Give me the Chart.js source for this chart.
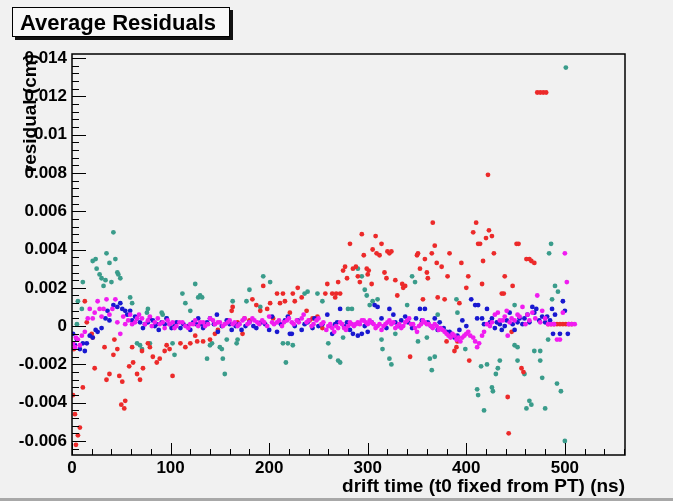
<!DOCTYPE html>
<html>
<head>
<meta charset="utf-8">
<title>Average Residuals</title>
<script src="https://cdn.jsdelivr.net/npm/chart.js@4"></script>
<style>
  html, body { margin: 0; padding: 0; background: #f1f1f1; }
  #wrap { position: relative; width: 673px; height: 501px; overflow: hidden; }
  #edge { position: absolute; left: 0; right: 0; bottom: 0; height: 3px; background: #a8a8a8; }
</style>
</head>
<body>
<div id="wrap">
  <canvas id="resChart" width="673" height="501"></canvas>
  <div id="edge"></div>
</div>
<script>
// --- Data (drift time in ns, residual in cm) ---
const xTicks = [0, 100, 200, 300, 400, 500];
const yTicks = [-0.006, -0.004, -0.002, 0, 0.002, 0.004, 0.006, 0.008, 0.01, 0.012, 0.014];

const redPts = [[1,-0.0036],[2,-0.0012],[3,-0.0046],[4,-0.0062],[6,-0.0057],[8,-0.0053],[11,-0.0032],[13,0.0013],[15,0.0002],[20,-0.0004],[21,-0.0006],[23,-0.0022],[33,-0.0011],[35,-0.0028],[38,-0.0025],[42,-0.0015],[43,-0.0007],[46,-0.0012],[48,-0.0026],[50,-0.0041],[51,-0.0029],[53,-0.0043],[54,-0.0039],[58,-0.0021],[61,-0.0011],[62,-0.0019],[66,-0.0025],[69,-0.0028],[71,-0.0013],[72,-0.0022],[77,-0.0009],[79,-0.0011],[82,-0.0016],[86,-0.0019],[89,-0.0017],[94,-0.0013],[96,-0.001],[99,-0.0012],[102,-0.0026],[110,-0.0009],[115,-0.0011],[120,-0.0009],[125,-0.0005],[127,-0.0008],[133,-0.0008],[140,-0.0007],[145,-0.0004],[148,-0.0002],[158,0.0003],[162,0.0008],[163,0.001],[168,0.0002],[173,-0.0004],[175,0.0004],[180,0.0003],[183,0.0014],[187,0.0011],[191,0.0008],[194,0.0021],[198,0.0009],[201,0.0012],[204,0.0004],[208,0.0017],[211,0.0012],[214,0.0017],[216,0.0013],[221,0.0007],[224,0.0017],[226,0.0013],[229,0.002],[233,0.0015],[238,0.0008],[241,0.0003],[244,0.0004],[249,0.0005],[254,-0.0001],[257,0.0017],[259,0.0022],[264,0.0017],[267,0.0015],[268,0.0017],[270,0.0023],[272,0.0017],[275,0.0029],[277,0.0031],[279,0.0025],[282,0.0043],[285,0.003],[288,0.0031],[290,0.0026],[292,0.0023],[294,0.0048],[296,0.0037],[299,0.003],[300,0.0027],[301,0.0029],[304,0.0022],[305,0.004],[308,0.0047],[309,0.0038],[312,0.0037],[314,0.0043],[317,0.0028],[319,0.0025],[320,0.0039],[322,0.0038],[324,0.0039],[328,0.0024],[330,0.0016],[335,0.0022],[336,0.002],[338,0.0021],[343,-0.0016],[350,0.0037],[351,0.0038],[353,0.003],[356,0.0014],[358,0.0035],[360,0.0028],[361,0.0025],[365,0.0038],[366,0.0054],[368,0.0042],[370,0.0033],[371,0.0015],[375,0.0031],[378,0.0014],[380,-0.0008],[381,0.0026],[383,0.0038],[388,-0.0013],[390,-0.0011],[391,-0.0008],[393,0.0012],[395,0.0033],[400,0.002],[402,0.0026],[403,-0.0018],[407,0.0049],[410,0.0054],[412,0.0043],[414,0.0043],[416,0.0022],[417,0.0034],[420,0.0046],[422,0.0079],[423,0.005],[426,0.0047],[428,0.0038],[436,0.0017],[438,0.0017],[439,0.0026],[442,-0.0037],[443,-0.0056],[446,-0.0003],[447,0.0021],[451,0.0043],[453,0.0043],[456,-0.0022],[458,-0.0024],[461,0.0035],[464,0.0035],[466,0.0034],[469,0.0033],[472,0.0122],[475,0.0122],[478,0.0122],[481,0.0122],[483,0.0001],[486,0.0001],[489,0.0001],[492,0.0001],[495,0.0001],[498,0.0001],[501,0.0001],[504,0.0001],[507,0.0001]];

const tealPts = [[5,0.0001],[6,0.0013],[10,0.0009],[11,0.0023],[21,0.0034],[24,0.0035],[25,0.003],[28,0.0027],[30,0.0025],[32,0.0021],[34,0.0024],[35,0.0038],[38,0.0033],[40,0.0023],[42,0.0049],[44,0.0035],[46,0.0028],[47,0.0027],[49,0.0025],[59,0.0015],[61,0.0012],[66,-0.0009],[69,-0.001],[71,-0.0012],[76,0.0007],[77,0.0009],[79,-0.0009],[91,0.0007],[92,0.0006],[96,0.0004],[102,-0.0009],[104,-0.0015],[112,0.0017],[115,0.0012],[120,0.0008],[125,0.0022],[128,0.0015],[130,0.0016],[132,0.0015],[137,-0.0017],[140,-0.001],[142,-0.0009],[150,-0.0011],[152,-0.0012],[153,-0.0017],[155,-0.0025],[157,-0.0007],[163,0.0013],[167,-0.0009],[168,-0.0007],[177,0.0013],[180,0.0019],[191,0.001],[194,0.0026],[201,0.0023],[214,-0.0009],[217,-0.0019],[219,-0.0009],[224,-0.001],[236,0.0017],[239,0.0018],[249,0.0017],[254,0.0013],[260,-0.0009],[262,-0.0016],[270,-0.0018],[272,-0.0019],[275,-0.0006],[280,0.0009],[284,0.0009],[290,0.003],[294,0.0026],[297,0.0019],[299,0.0016],[302,0.0011],[305,0.0013],[310,0.0014],[314,-0.0007],[315,-0.0012],[322,-0.0017],[324,-0.002],[328,-0.0004],[340,0.0011],[345,0.0026],[348,0.0023],[351,-0.0008],[360,-0.0006],[363,-0.0017],[365,-0.0023],[368,-0.0016],[371,0.0006],[390,0.0014],[391,0.0007],[399,-0.0012],[411,-0.0033],[412,-0.0036],[415,-0.0021],[418,-0.0044],[421,-0.002],[426,-0.0032],[427,-0.0034],[430,-0.0025],[432,-0.0022],[434,-0.0018],[449,0.0011],[449,-0.001],[452,-0.0011],[452,-0.0018],[459,-0.0025],[461,-0.0043],[464,-0.0039],[466,-0.0041],[469,-0.0013],[475,-0.0013],[475,-0.0018],[477,-0.0027],[480,-0.0043],[483,-0.0007],[484,0.0038],[486,0.0043],[487,0.0014],[490,0.0021],[492,-0.003],[493,0.0018],[496,-0.0034],[500,-0.006],[501,0.0135]];

const bluePts = [[1,-0.0004],[3,-0.001],[5,-0.0007],[8,-0.0012],[11,-0.0009],[13,-0.0013],[15,-0.0009],[18,-0.0005],[21,-0.0006],[24,-0.0002],[26,-0.0003],[30,-0.0001],[34,0.0004],[36,0.0008],[38,0.0003],[42,0.0011],[46,0.001],[49,0.0012],[51,0.0009],[54,0.0008],[56,0.0006],[59,0.0008],[61,0.0003],[64,0.0005],[66,0.0004],[69,0.0002],[72,-0.0001],[74,0.0001],[77,0.0002],[79,0.0004],[82,0.0003],[84,0],[86,0.0001],[88,-0.0002],[91,0.0002],[94,0.0001],[96,0.0004],[99,0.0001],[101,-0.0001],[104,0],[106,0.0002],[110,-0.0001],[113,0.0001],[117,0],[120,-0.0002],[123,0.0002],[126,0.0001],[128,0.0004],[131,0.0001],[133,-0.0001],[137,0.0002],[140,0.0004],[144,0.0001],[147,0.0006],[148,-0.0003],[152,0],[157,0.0003],[160,0.0001],[162,-0.0002],[166,0],[169,0.0001],[172,-0.0002],[176,0],[180,0.0002],[184,0],[187,-0.0001],[192,0.0002],[196,0.0001],[200,-0.0002],[203,0.0005],[208,-0.0003],[212,0.0001],[216,0.0003],[219,0.0005],[221,-0.0004],[223,-0.0004],[226,0],[229,0.0003],[233,-0.0002],[236,0.0001],[239,0.0002],[244,-0.0001],[246,0.0004],[250,0],[254,0.0001],[259,0.0006],[262,0],[264,-0.0004],[267,0.0001],[269,0.0002],[272,0.0009],[276,0],[279,0.0002],[282,-0.0002],[285,-0.0004],[290,-0.0005],[294,-0.0004],[297,0],[300,-0.0003],[304,0.0002],[307,0.0011],[310,0.001],[314,0.0004],[319,-0.0001],[322,0.0009],[326,0.0006],[328,0.0002],[331,0],[334,0.0003],[338,0.0005],[341,0.0002],[345,-0.0001],[349,0.0004],[353,0.0009],[355,0.0003],[358,0.0009],[361,0.0002],[364,0],[368,0.0004],[371,-0.0002],[373,0.0002],[377,-0.0001],[380,-0.0003],[383,-0.0003],[385,-0.0004],[388,-0.0006],[391,-0.0005],[393,-0.0002],[396,0.0003],[400,0],[405,0.0014],[409,0.0011],[411,0.0004],[412,0.0011],[416,0.0004],[418,0.0001],[421,0.0009],[424,0.0002],[426,0.0004],[429,-0.0001],[431,0.0002],[434,0.0001],[436,-0.0002],[439,0],[441,0.0003],[444,0.0007],[447,0.0001],[449,-0.0002],[452,0.0002],[454,0.0004],[457,0.0001],[459,0.0004],[462,0.0006],[464,0.0002],[467,0.001],[469,0.0007],[471,0.0009],[474,0.0003],[477,0.0005],[480,0.0002],[482,0.0005],[485,0.0003],[487,0.0009],[488,-0.0004],[490,0.0006],[495,-0.0004],[498,0.0013],[500,0.0008],[503,-0.0004]];

const magentaPts = [[1,-0.0009],[3,-0.0011],[4,-0.0006],[6,-0.0007],[8,-0.001],[10,-0.0005],[13,-0.0003],[16,0.0004],[18,0.0009],[21,0.0004],[23,0.0007],[26,0.0013],[28,0.0009],[30,0.0005],[32,0.0009],[35,0.0014],[38,0.0006],[41,0.0009],[44,0.0014],[46,0.0002],[49,-0.0004],[52,0.0005],[54,0.0001],[57,0.0003],[59,0.0006],[61,0.0001],[64,0.0002],[66,0.0004],[68,0.0006],[71,0.0004],[74,0.0001],[77,0.0003],[79,0.0005],[81,0],[84,0.0002],[87,0.0004],[89,0.0001],[92,0.0002],[94,-0.0001],[97,0.0003],[99,0.0001],[102,0.0002],[104,-0.0001],[106,0],[109,0.0002],[112,0.0002],[115,0],[118,-0.0001],[120,0.0001],[123,0.0001],[125,0.0003],[128,0],[130,0.0002],[133,0.0002],[135,0],[138,0.0001],[140,0.0004],[143,0.0003],[145,0.0001],[148,0.0002],[150,0.0002],[153,0],[155,0.0001],[158,0.0002],[160,0.0003],[163,0.0001],[165,0.0002],[168,0],[170,0.0001],[173,0.0003],[175,0.0004],[178,0.0001],[180,0.0002],[183,0.0004],[185,0.0003],[188,0.0002],[190,0.0001],[193,0.0003],[195,0.0002],[198,0],[200,0.0005],[203,0.0002],[205,0.0001],[208,0.0002],[210,0.0003],[213,0],[215,0.0002],[218,0.0003],[220,0.0004],[223,0.0002],[225,0.0001],[228,0.0003],[230,0.0002],[233,0.0004],[235,0.0006],[238,0.0002],[240,0.0003],[243,0],[245,0.0001],[248,0.0003],[250,0.0004],[253,0.0001],[255,0.0002],[258,-0.0002],[260,0],[262,0.0001],[264,-0.0001],[266,-0.0003],[268,0],[270,-0.0001],[272,0.0002],[274,0.0001],[276,-0.0001],[278,-0.0002],[280,0],[282,0.0002],[284,0.0001],[286,0],[288,0.0001],[290,0.0002],[292,0.0001],[294,0.0003],[296,0.0003],[298,0.0002],[300,0.0001],[302,0.0003],[304,0.0002],[306,0.0001],[308,-0.0001],[310,0],[312,0.0001],[314,-0.0002],[316,0],[318,0.0001],[320,0.0002],[322,0.0003],[324,0.0001],[326,0.0002],[328,-0.0001],[330,0],[332,0.0001],[334,-0.0001],[336,0],[338,0.0002],[340,0.0003],[342,0.0004],[344,0.0001],[346,0.0001],[348,-0.0001],[350,-0.0003],[352,0],[354,0.0001],[356,0.0003],[358,0.0002],[360,0.0001],[362,0.0001],[364,0],[366,-0.0001],[368,0.0001],[370,0],[372,-0.0002],[374,-0.0001],[376,-0.0002],[378,-0.0003],[380,-0.0004],[382,-0.0005],[384,-0.0006],[386,-0.0004],[388,-0.0005],[390,-0.0007],[392,-0.0006],[394,-0.0008],[396,-0.0006],[398,-0.0005],[400,-0.0004],[402,-0.0003],[404,-0.0005],[407,-0.0006],[409,-0.0008],[411,-0.0011],[413,-0.0009],[416,-0.0005],[418,-0.0003],[421,0.0001],[424,0],[426,0.0002],[429,0.0006],[432,0.0007],[434,0.0003],[437,0.0003],[439,0.0005],[441,0.0008],[442,-0.0005],[444,0.0002],[446,0.0004],[449,0.0003],[452,0.0006],[454,0.0005],[457,0.001],[460,0.0001],[462,0.0006],[464,0.0003],[467,0.0007],[470,0.0004],[472,0.0016],[475,0.0002],[477,0.0008],[480,0.0004],[483,0.0001],[486,0.0001],[489,0.0001],[492,-0.0007],[495,-0.0007],[498,0.0007],[500,0.0038],[502,0.0023],[504,0.0001],[507,0.0001],[510,0.0001]];

const FONT = '"Liberation Sans", Arial, sans-serif';

function toXY(pts) {
  return pts.map(p => ({ x: p[0], y: p[1] }));
}

function series(label, pts, color, order) {
  return {
    label,
    data: toXY(pts),
    showLine: false,
    pointRadius: 2.4,
    pointBorderWidth: 0,
    pointBackgroundColor: color,
    backgroundColor: color,
    order
  };
}

// --- ROOT-like frame with inner ticks and title box ---
const rootFrame = {
  id: 'rootFrame',
  afterDatasetsDraw(chart) {
    const { ctx, chartArea: a, scales: { x, y } } = chart;
    ctx.save();
    ctx.strokeStyle = '#000';
    ctx.lineWidth = 1;
    ctx.beginPath();
    // y ticks every 0.0004, major every 0.002
    for (let i = -16; i <= 35; i++) {
      const py = Math.round(y.getPixelForValue(i * 0.0004)) + 0.5;
      if (py < a.top || py > a.bottom) continue;
      const len = i % 5 === 0 ? 14 : 7;
      ctx.moveTo(a.left, py);
      ctx.lineTo(a.left + len, py);
    }
    // x ticks every 20 ns, major every 100
    for (let i = 0; i <= 28; i++) {
      const px = Math.round(x.getPixelForValue(i * 20)) + 0.5;
      if (px > a.right) continue;
      const len = i % 5 === 0 ? 12 : 6;
      ctx.moveTo(px, a.bottom);
      ctx.lineTo(px, a.bottom - len);
    }
    ctx.stroke();
    ctx.lineWidth = 1.5;
    ctx.strokeRect(a.left, a.top, a.right - a.left, a.bottom - a.top);
    ctx.restore();
  },
  afterDraw(chart) {
    const ctx = chart.ctx;
    ctx.save();
    ctx.fillStyle = '#111';
    ctx.fillRect(15, 10, 218, 30);
    ctx.fillStyle = '#f7f7f7';
    ctx.fillRect(12, 7, 218, 30);
    ctx.strokeStyle = '#000';
    ctx.lineWidth = 1;
    ctx.strokeRect(12.5, 7.5, 217, 29);
    ctx.fillStyle = '#000';
    ctx.font = 'bold 22px ' + FONT;
    ctx.textBaseline = 'alphabetic';
    ctx.fillText('Average Residuals', 20, 30);
    ctx.restore();
  }
};

const chart = new Chart(document.getElementById('resChart'), {
  type: 'scatter',
  data: {
    datasets: [
      series('teal', tealPts, '#3a9c8b', 4),
      series('red', redPts, '#ec2a2a', 3),
      series('blue', bluePts, '#1818d0', 2),
      series('magenta', magentaPts, '#f01cf0', 1)
    ]
  },
  options: {
    responsive: false,
    animation: false,
    layout: { padding: { top: 54, right: 48, left: 0, bottom: 0 } },
    plugins: { legend: { display: false }, tooltip: { enabled: false } },
    scales: {
      x: {
        type: 'linear',
        min: 0,
        max: 561,
        grid: { display: false, drawTicks: false },
        border: { display: false },
        afterBuildTicks: s => { s.ticks = xTicks.map(v => ({ value: v })); },
        afterFit: s => { s.height = 46; },
        ticks: {
          color: '#000',
          padding: 3,
          maxRotation: 0,
          font: { family: FONT, size: 17, weight: 'bold' },
          callback: v => String(v)
        },
        title: {
          display: true,
          text: 'drift time (t0 fixed from PT) (ns)',
          align: 'end',
          color: '#000',
          padding: { top: 0, bottom: 3 },
          font: { family: FONT, size: 19, weight: 'bold' }
        }
      },
      y: {
        type: 'linear',
        min: -0.00673,
        max: 0.01421,
        grid: { display: false, drawTicks: false },
        border: { display: false },
        afterBuildTicks: s => { s.ticks = yTicks.map(v => ({ value: v })); },
        afterFit: s => { s.width = 72; },
        ticks: {
          color: '#000',
          padding: 5,
          font: { family: FONT, size: 17, weight: 'bold' },
          callback: v => String(+v.toFixed(4))
        },
        title: {
          display: true,
          text: 'residual (cm)',
          align: 'end',
          color: '#000',
          padding: { top: 19, bottom: 0 },
          font: { family: FONT, size: 19, weight: 'bold' }
        }
      }
    }
  },
  plugins: [rootFrame]
});
</script>
</body>
</html>
